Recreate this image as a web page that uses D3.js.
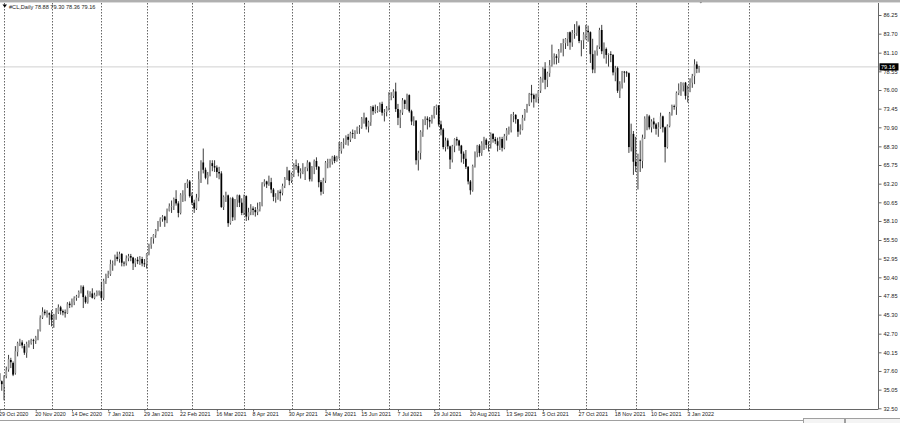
<!DOCTYPE html>
<html><head><meta charset="utf-8">
<script src="https://cdn.jsdelivr.net/npm/d3@7"></script>
<style>html,body{margin:0;padding:0;background:#fff;}svg{display:block;font-family:"Liberation Sans",Arial,sans-serif;}</style>
</head><body>
<svg id="c" width="900" height="423"></svg>
<script>
// ---- categories: trading days (weekdays) ----
const firstDay = "2020-10-29", lastDay = "2022-01-10";
const holidays = ["2020-12-25", "2021-01-01", "2021-04-02"];
const symbol = "#CL,Daily";

// ---- series values ----
const opens = [
37.3,36.2,
35.6,36.9,37.8,39.1,38.7,37.3,40.2,41.4,41.5,41.0,40.1,41.3,41.4,41.8,41.7,42.2,43.1,44.9,45.7,45.5,45.5,
45.3,44.6,45.3,45.6,46.3,45.8,45.6,45.5,46.8,46.6,47.0,47.6,47.8,48.4,49.1,47.7,47.0,48.1,48.2,47.6,48.0,48.4,
48.5,47.6,49.9,50.6,50.8,52.2,52.3,53.2,52.9,53.6,52.4,52.3,53.0,53.3,53.1,52.3,52.8,52.6,52.9,52.3,
52.2,53.6,54.8,55.7,56.2,56.9,58.0,58.4,58.7,58.2,59.5,60.1,60.1,61.1,60.5,59.2,61.7,61.7,63.2,63.5,
61.5,60.6,59.8,61.3,63.8,66.1,65.1,64.0,64.4,66.0,65.6,65.4,64.8,64.6,60.0,61.4,61.6,57.8,61.2,58.6,61.0,61.6,60.6,
59.2,61.5,58.7,59.3,59.8,59.6,59.3,59.7,60.2,63.2,63.5,63.1,63.4,62.4,61.4,61.4,62.1,61.9,62.9,63.9,65.0,
63.6,64.5,65.7,65.6,64.7,64.9,64.9,65.3,66.1,63.8,65.4,66.3,65.5,63.4,62.1,63.6,66.1,66.1,66.2,66.9,66.3,
66.8,67.7,68.8,68.8,69.6,69.2,70.1,70.0,70.3,70.9,70.9,72.1,72.2,71.0,71.6,73.7,73.1,73.1,73.3,74.1,72.9,73.0,
73.5,75.2,75.2,75.8,73.4,72.2,72.9,74.6,74.1,75.3,73.1,71.7,71.8,66.4,67.4,70.3,71.9,72.1,71.9,71.7,72.4,73.6,
73.9,71.3,70.6,68.2,69.1,68.3,66.5,68.3,69.3,69.1,68.4,67.3,66.6,65.5,63.5,62.3,65.6,67.5,68.4,67.4,68.7,69.2,
68.5,68.6,70.0,69.3,69.0,68.4,69.3,68.1,69.7,70.5,70.5,72.6,72.6,72.0,70.3,70.6,72.2,73.3,74.0,75.5,75.3,74.8,
75.0,75.9,77.6,78.9,77.4,78.3,79.4,80.5,80.6,80.4,81.3,82.3,82.4,83.0,83.9,82.5,83.8,83.8,84.7,82.7,82.8,
83.6,84.1,83.9,80.9,78.8,81.3,81.9,84.2,81.3,81.6,80.8,80.9,80.8,78.4,79.0,75.9,76.8,78.5,78.4,78.3,68.2,70.0,
66.2,65.6,66.5,66.3,69.5,72.1,72.4,70.9,71.7,71.3,70.7,70.9,72.4,70.9,68.2,71.1,72.8,73.8,73.7,75.6,76.0,76.6,77.0,
75.2,76.1,77.0,77.9,79.5,78.88];
const highs = [
37.6,36.3,
37.0,38.2,39.8,39.4,38.9,41.0,41.6,42.0,41.8,41.3,41.6,41.8,42.0,42.0,42.4,43.3,45.2,46.3,46.0,45.9,45.6,
45.9,45.4,46.2,46.7,46.5,46.0,46.0,47.0,47.1,47.5,47.8,48.0,48.6,49.3,49.3,47.9,48.6,48.5,48.9,48.3,48.6,48.6,
49.8,50.2,50.9,51.3,52.8,52.7,53.5,53.9,53.9,53.7,52.6,53.4,53.6,53.6,53.2,53.0,53.2,53.3,53.2,52.9,
53.7,55.0,55.9,56.3,57.0,58.1,58.6,58.9,58.8,59.8,60.5,60.9,61.3,62.3,60.8,61.9,62.3,63.3,63.8,63.7,
62.0,61.0,61.8,64.9,66.4,68.0,65.4,64.8,66.4,66.4,66.4,65.7,65.5,64.9,61.6,62.1,61.7,61.3,61.4,61.1,61.7,61.7,61.2,
61.7,61.6,59.9,60.4,60.1,60.0,60.6,60.7,63.4,63.8,63.6,64.3,64.0,62.6,61.9,62.3,62.4,63.2,64.1,65.5,65.0,
64.7,66.0,66.5,66.0,65.3,66.0,65.5,66.4,66.2,65.6,66.5,66.8,65.6,63.7,64.0,66.3,66.6,66.6,67.0,67.1,67.0,
68.9,68.9,69.4,69.8,70.0,70.3,70.6,70.5,71.0,71.2,72.3,72.9,72.3,71.8,73.8,73.9,74.0,73.8,74.3,74.4,73.4,73.8,
75.7,75.7,76.1,77.0,74.1,73.3,74.9,74.7,75.5,75.4,73.3,72.4,71.9,67.7,70.5,72.0,72.4,72.4,72.3,72.6,73.8,74.0,
73.9,71.8,70.8,69.5,69.4,68.4,68.5,69.4,69.6,69.2,68.5,67.6,67.8,65.6,63.7,65.8,67.6,68.5,68.6,69.0,69.6,69.4,
69.0,70.2,70.1,69.6,69.5,69.6,69.6,70.0,70.8,71.0,72.7,73.0,72.7,72.0,71.3,72.6,73.4,74.1,75.6,76.7,75.5,75.5,
76.0,77.8,79.1,79.8,78.5,80.1,82.2,81.0,80.9,81.6,82.4,83.0,83.1,83.9,84.0,84.2,85.0,85.4,84.9,82.8,83.9,
84.9,84.8,84.0,83.0,81.4,82.1,84.5,84.9,82.5,81.8,81.0,81.3,80.9,79.3,79.2,77.2,78.6,78.6,78.6,78.4,71.4,70.4,
69.6,67.3,69.1,69.9,72.4,72.7,72.6,72.0,72.2,71.5,71.6,72.9,72.5,71.0,71.3,73.0,74.0,74.0,75.8,76.9,77.1,77.0,77.1,
76.6,77.6,78.2,80.2,79.9,79.30];
const lows = [
35.6,34.9,
33.6,36.6,37.5,38.0,36.9,37.1,39.6,41.0,40.7,39.8,39.4,40.8,41.2,40.6,41.3,41.8,43.0,44.7,45.2,44.9,43.9,
43.7,43.5,44.6,45.4,45.3,45.2,44.9,45.4,46.2,46.3,46.6,47.2,47.6,48.2,46.2,46.8,46.8,47.7,47.5,47.4,47.8,47.9,
47.2,47.3,49.5,50.3,50.6,51.3,52.0,52.6,52.4,51.9,51.9,52.0,52.6,52.6,51.4,51.8,52.2,52.1,51.9,51.8,
51.6,53.4,54.3,55.0,55.8,56.7,57.3,58.0,57.3,57.8,59.4,59.2,59.6,60.2,58.6,59.0,60.7,60.8,62.6,61.3,
60.3,59.2,59.6,60.8,63.3,64.6,63.8,63.1,64.2,64.9,64.8,64.0,63.8,59.9,59.6,60.7,57.3,57.6,58.1,58.2,60.0,60.0,58.9,
58.9,58.1,58.2,58.9,58.9,58.7,58.9,59.4,60.1,62.8,62.6,62.9,61.9,60.8,60.6,61.0,60.8,61.6,62.6,63.7,63.0,
63.3,64.1,65.1,64.2,63.9,64.5,63.7,64.9,63.5,63.5,64.5,65.1,62.7,61.6,61.8,63.3,65.3,65.4,65.8,66.0,66.2,
66.6,67.3,68.0,68.5,68.4,68.9,69.4,69.3,70.0,70.0,70.7,71.4,70.6,70.2,71.1,72.6,72.8,72.9,73.0,72.5,71.7,72.4,
73.2,74.6,74.9,73.0,71.2,70.8,72.6,73.4,73.3,72.9,71.2,71.1,65.8,65.0,66.5,69.6,71.2,70.6,70.9,71.4,72.1,72.6,
71.0,69.8,67.9,67.6,67.9,65.2,66.1,67.5,68.4,67.7,66.1,65.9,65.2,63.1,61.7,62.1,65.4,66.8,66.9,67.0,67.8,68.0,
67.6,68.0,68.8,68.6,67.6,67.8,67.6,67.9,69.1,69.9,70.2,71.6,71.4,69.6,69.9,70.5,71.8,72.9,73.8,74.3,73.6,74.3,
74.2,75.6,77.0,76.1,76.4,77.8,79.2,79.5,79.5,79.7,81.1,80.6,81.6,82.0,81.5,81.9,83.0,83.4,82.4,80.6,81.6,
82.9,82.6,79.7,78.3,78.3,80.7,81.6,80.9,80.3,79.6,79.2,79.8,78.0,77.2,75.6,74.9,76.2,77.0,77.8,67.4,67.6,64.4,
64.8,62.4,64.8,65.3,69.3,70.5,70.6,70.2,70.7,69.9,69.6,70.7,70.2,66.1,68.0,70.9,72.5,73.3,72.6,75.3,75.2,75.8,74.7,
74.3,75.7,76.3,76.8,78.3,78.36];
const closes = [
36.2,35.8,
36.8,37.7,39.2,38.8,37.1,40.3,41.4,41.5,41.1,40.1,41.3,41.4,41.8,41.7,42.2,43.1,44.9,45.7,45.5,45.5,45.3,
44.6,45.3,45.6,46.3,45.8,45.6,45.5,46.8,46.6,47.0,47.6,47.8,48.4,49.1,47.7,47.0,48.1,48.2,47.6,48.0,48.4,48.5,
47.6,49.9,50.6,50.8,52.2,52.3,53.2,52.9,53.6,52.4,52.3,53.0,53.3,53.1,52.3,52.8,52.6,52.9,52.3,52.2,
53.6,54.8,55.7,56.2,56.9,58.0,58.4,58.7,58.2,59.5,60.1,60.1,61.1,60.5,59.2,61.7,61.7,63.2,63.5,61.5,
60.6,59.8,61.3,63.8,66.1,65.1,64.0,64.4,66.0,65.6,65.4,64.8,64.6,60.0,61.4,61.6,57.8,61.2,58.6,61.0,61.6,60.6,59.2,
61.5,58.7,59.3,59.8,59.6,59.3,59.7,60.2,63.2,63.5,63.1,63.4,62.4,61.4,61.4,62.1,61.9,62.9,63.9,65.0,63.6,
64.5,65.7,65.6,64.7,64.9,64.9,65.3,66.1,63.8,65.4,66.3,65.5,63.4,62.1,63.6,66.1,66.1,66.2,66.9,66.3,66.8,
67.7,68.8,68.8,69.6,69.2,70.1,70.0,70.3,70.9,70.9,72.1,72.2,71.0,71.6,73.7,73.1,73.1,73.3,74.1,72.9,73.0,73.5,
75.2,75.2,75.8,73.4,72.2,72.9,74.6,74.1,75.3,73.1,71.7,71.8,66.4,67.4,70.3,71.9,72.1,71.9,71.7,72.4,73.6,73.9,
71.3,70.6,68.2,69.1,68.3,66.5,68.3,69.3,69.1,68.4,67.3,66.6,65.5,63.5,62.3,65.6,67.5,68.4,67.4,68.7,69.2,68.5,
68.6,70.0,69.3,69.0,68.4,69.3,68.1,69.7,70.5,70.5,72.6,72.6,72.0,70.3,70.6,72.2,73.3,74.0,75.5,75.3,74.8,75.0,
75.9,77.6,78.9,77.4,78.3,79.4,80.5,80.6,80.4,81.3,82.3,82.4,83.0,83.9,82.5,83.8,83.8,84.7,82.7,82.8,83.6,
84.1,83.9,80.9,78.8,81.3,81.9,84.2,81.3,81.6,80.8,80.9,80.8,78.4,79.0,75.9,76.8,78.5,78.4,78.3,68.2,70.0,66.2,
65.6,66.5,66.3,69.5,72.1,72.4,70.9,71.7,71.3,70.7,70.9,72.4,70.9,68.2,71.1,72.8,73.8,73.7,75.6,76.0,76.6,77.0,75.2,
76.1,77.0,77.9,79.5,78.9,79.16];

// ---- tick labels ----
const priceTicks = ["86.25","83.70","81.10","78.55","76.00","73.45","70.90","68.30","65.75","63.20","60.65","58.10",
  "55.50","52.95","50.40","47.85","45.30","42.70","40.15","37.60","35.05","32.50"];
const dateTickDates = ["2020-10-29","2020-11-20","2020-12-14","2021-01-07","2021-01-29","2021-02-22","2021-03-16",
  "2021-04-08","2021-04-30","2021-05-24","2021-06-15","2021-07-07","2021-07-29","2021-08-20","2021-09-13",
  "2021-10-05","2021-10-27","2021-11-18","2021-12-10","2022-01-03"];
const separatorDates = ["2020-11-01","2020-12-01","2021-01-01","2021-02-01","2021-03-01","2021-04-01","2021-05-01",
  "2021-06-01","2021-07-01","2021-08-01","2021-09-01","2021-10-01","2021-11-01","2021-12-01","2022-01-01","2022-02-01"];

// ---- build category list ----
const parse = d3.utcParse("%Y-%m-%d"), fmtKey = d3.utcFormat("%Y-%m-%d");
const dates = d3.utcDays(parse(firstDay), d3.utcDay.offset(parse(lastDay), 1))
  .filter(d => d.getUTCDay() !== 0 && d.getUTCDay() !== 6 && !holidays.includes(fmtKey(d)));
const data = dates.map((d, i) => ({date: d, i, o: opens[i], h: highs[i], l: lows[i], c: closes[i]}));
const n = data.length;

const W = 900, H = 423;
const plotRight = 878.5, plotBottom = 409, plotTop = 3;
const x = d3.scaleLinear().domain([0, n - 1]).range([-0.5, -0.5 + 2.264 * (n - 1)]);
const y = d3.scaleLinear().domain([32.50, 86.25]).range([408.3, 15]);

const svg = d3.select("#c");
svg.append("rect").attr("width", W).attr("height", H).attr("fill", "#fff");

// index lookup for a date (fractional beyond last bar using calendar days)
function idxOf(ds) {
  const d = parse(ds);
  const k = data.findIndex(r => r.date >= d);
  if (k >= 0) return k;
  const days = d3.utcDay.count(data[n - 1].date, d);
  return (n - 1) + days;
}

// period separators
const gSep = svg.append("g");
separatorDates.forEach(ds => {
  const xi = Math.round(x(idxOf(ds))) + 0.5;
  gSep.append("line").attr("x1", xi).attr("x2", xi).attr("y1", plotTop).attr("y2", plotBottom)
    .attr("stroke", "#555").attr("stroke-width", 0.9).attr("stroke-dasharray", "1.5,1.5");
});

// bid line
const last = data[n - 1];
svg.append("line").attr("x1", 0).attr("x2", plotRight).attr("y1", y(last.c)).attr("y2", y(last.c))
  .attr("stroke", "#d0d0d0").attr("stroke-width", 1);

// candles
const gC = svg.append("g");
gC.selectAll("line.w").data(data).join("line").attr("class", "w")
  .attr("x1", d => x(d.i)).attr("x2", d => x(d.i))
  .attr("y1", d => y(d.h)).attr("y2", d => y(d.l))
  .attr("stroke", "#1a1a1a").attr("stroke-width", 0.85);
gC.selectAll("rect.b").data(data).join("rect").attr("class", "b")
  .attr("x", d => x(d.i) - 0.85).attr("width", 1.7)
  .attr("y", d => y(Math.max(d.o, d.c)))
  .attr("height", d => Math.max(0.8, Math.abs(y(d.o) - y(d.c))))
  .attr("fill", d => d.c >= d.o ? "#9a9a9a" : "#000");

// right axis
svg.append("line").attr("x1", plotRight).attr("x2", plotRight).attr("y1", plotTop).attr("y2", plotBottom)
  .attr("stroke", "#666").attr("stroke-width", 1);
const yAxis = d3.axisRight(y).tickValues(priceTicks.map(Number)).tickSize(3).tickPadding(2)
  .tickFormat((d, i) => priceTicks[i]);
const gy = svg.append("g").attr("transform", `translate(${plotRight},0)`).call(yAxis);
gy.select(".domain").remove();
gy.selectAll(".tick line").attr("stroke", "#666");
gy.selectAll(".tick text").attr("font-size", 5.6).attr("fill", "#222").attr("font-family", "Liberation Sans, Arial, sans-serif");

// price label
const py = y(last.c);
svg.append("rect").attr("x", plotRight + 1).attr("y", py - 3.6).attr("width", 19).attr("height", 7.2).attr("fill", "#000");
svg.append("text").attr("x", plotRight + 2.5).attr("y", py + 2).attr("font-size", 5.6).attr("fill", "#fff")
  .text(d3.format(".2f")(last.c));

// bottom axis
svg.append("line").attr("x1", 0).attr("x2", plotRight).attr("y1", plotBottom + 0.5).attr("y2", plotBottom + 0.5)
  .attr("stroke", "#666").attr("stroke-width", 1);
const dateFmt = d3.utcFormat("%-d %b %Y");
const xAxis = d3.axisBottom(x).tickValues(dateTickDates.map(idxOf)).tickSize(2).tickPadding(1)
  .tickFormat(i => dateFmt(data[i].date));
const gx = svg.append("g").attr("transform", `translate(0,${plotBottom + 0.5})`).call(xAxis);
gx.select(".domain").remove();
gx.selectAll(".tick line").attr("stroke", "#666");
gx.selectAll(".tick text").attr("font-size", 5.4).attr("fill", "#222").attr("text-anchor", "start")
  .attr("dx", -1).attr("font-family", "Liberation Sans, Arial, sans-serif");

// top frame strip
svg.append("rect").attr("x", 0).attr("y", 0).attr("width", W).attr("height", 2).attr("fill", "#b0b0b0");
svg.append("line").attr("x1", 0).attr("x2", W).attr("y1", 2.5).attr("y2", 2.5).attr("stroke", "#dcdcdc");
// shift marker
svg.append("path").attr("d", `M${x(n - 1) + 0.5},2 l2.5,0 l-1.25,1.6 z`).attr("fill", "#888");

// bottom scrollbar
svg.append("line").attr("x1", 0).attr("x2", 803).attr("y1", 420.5).attr("y2", 420.5).attr("stroke", "#a0a0a0");
svg.append("rect").attr("x", 803.5).attr("y", 418.5).attr("width", 41).attr("height", 5).attr("fill", "#f4f4f4").attr("stroke", "#a0a0a0");
svg.append("rect").attr("x", 845.5).attr("y", 418.5).attr("width", 55).attr("height", 5).attr("fill", "#f4f4f4").attr("stroke", "#a0a0a0");

// header
svg.append("path").attr("d", "M2.5,4.5 l4.5,0 l-2.25,3 z").attr("fill", "#000");
svg.append("text").attr("x", 9).attr("y", 9).attr("font-size", 5.6).attr("fill", "#222")
  .text(`${symbol}  ${last.o.toFixed(2)} ${last.h.toFixed(2)} ${last.l.toFixed(2)} ${last.c.toFixed(2)}`);
</script>
</body></html>
